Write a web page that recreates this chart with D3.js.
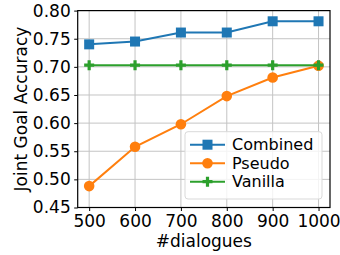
<!DOCTYPE html>
<html lang="en">
<head>
    <meta charset="UTF-8">
    <title>Joint Goal Accuracy vs #dialogues</title>
    <script src="https://d3js.org/d3.v7.min.js"></script>
    <style>
        body { margin: 0; background: #fff; }
        svg text { font-family: 'DejaVu Sans', sans-serif; fill: #000; }
        .grid line { stroke: #c4c4c4; stroke-width: 1; }
        .axis path, .axis line { stroke: #000; }
    </style>
</head>
<body>
    <div id="chart"></div>
    <script>
        // data
        const dialogues = [500, 600, 700, 800, 900, 1000];
        const combined = [0.740, 0.745, 0.761, 0.761, 0.781, 0.781];
        const pseudo = [0.488, 0.558, 0.598, 0.648, 0.681, 0.702];
        const vanilla = [0.703, 0.703, 0.703, 0.703, 0.703, 0.703];
        const yTicks = [0.45, 0.50, 0.55, 0.60, 0.65, 0.70, 0.75, 0.80];
        const seriesNames = ['Combined', 'Pseudo', 'Vanilla'];

        const width = 340, height = 255;
        const margin = { top: 10.6, right: 10, bottom: 47.5, left: 77.7 };
        const innerW = width - margin.left - margin.right;
        const innerH = height - margin.top - margin.bottom;

        const colors = ['#1f77b4', '#ff7f0e', '#2ca02c'];
        const shapes = ['square', 'circle', 'plus'];

        const x = d3.scaleLinear().domain([475, 1025]).range([0, innerW]);
        const y = d3.scaleLinear().domain([0.45, 0.80]).range([innerH, 0]);

        const svg = d3.select('#chart').append('svg')
            .attr('width', width)
            .attr('height', height);

        const g = svg.append('g')
            .attr('transform', `translate(${margin.left},${margin.top})`);

        // grid
        g.append('g').attr('class', 'grid')
            .selectAll('line').data(dialogues).enter().append('line')
            .attr('x1', d => x(d)).attr('x2', d => x(d))
            .attr('y1', 0).attr('y2', innerH);
        g.append('g').attr('class', 'grid')
            .selectAll('line').data(yTicks).enter().append('line')
            .attr('x1', 0).attr('x2', innerW)
            .attr('y1', d => y(d)).attr('y2', d => y(d));

        // series
        const series = [combined, pseudo, vanilla].map((vals, i) => ({
            name: seriesNames[i],
            color: colors[i],
            shape: shapes[i],
            points: vals.map((v, j) => ({ x: dialogues[j], y: v }))
        }));

        const line = d3.line().x(d => x(d.x)).y(d => y(d.y));

        function drawMarker(sel, shape, color) {
            if (shape === 'square') {
                sel.append('rect')
                    .attr('x', -5).attr('y', -5).attr('width', 10).attr('height', 10)
                    .attr('fill', color);
            } else if (shape === 'circle') {
                sel.append('circle').attr('r', 5.3).attr('fill', color);
            } else {
                sel.append('path')
                    .attr('d', 'M-5,-1.6H-1.6V-5H1.6V-1.6H5V1.6H1.6V5H-1.6V1.6H-5Z')
                    .attr('fill', color);
            }
        }

        series.forEach(s => {
            g.append('path')
                .datum(s.points)
                .attr('fill', 'none')
                .attr('stroke', s.color)
                .attr('stroke-width', 2)
                .attr('d', line);
            s.points.forEach(p => {
                const m = g.append('g').attr('transform', `translate(${x(p.x)},${y(p.y)})`);
                drawMarker(m, s.shape, s.color);
            });
        });

        // axes
        const xAxis = d3.axisBottom(x).tickValues(dialogues).tickFormat(d3.format('d'))
            .tickSize(3.5).tickPadding(3.5).tickSizeOuter(0);
        const yAxis = d3.axisLeft(y).tickValues(yTicks).tickFormat(d3.format('.2f'))
            .tickSize(3.5).tickPadding(3.5).tickSizeOuter(0);

        g.append('g').attr('class', 'axis')
            .attr('transform', `translate(0,${innerH})`)
            .call(xAxis)
            .call(a => a.select('.domain').remove())
            .selectAll('text').style('font-size', '17px');
        g.append('g').attr('class', 'axis')
            .call(yAxis)
            .call(a => a.select('.domain').remove())
            .selectAll('text').style('font-size', '17px');

        // frame
        g.append('rect')
            .attr('width', innerW).attr('height', innerH)
            .attr('fill', 'none').attr('stroke', '#000').attr('stroke-width', 1.2);

        // axis labels
        svg.append('text')
            .attr('x', margin.left + innerW / 2)
            .attr('y', 247)
            .attr('text-anchor', 'middle')
            .style('font-size', '17px')
            .text('#dialogues');
        svg.append('text')
            .attr('transform', `translate(27,${margin.top + innerH / 2}) rotate(-90)`)
            .attr('text-anchor', 'middle')
            .style('font-size', '17px')
            .text('Joint Goal Accuracy');

        // legend
        const lg = svg.append('g').attr('transform', 'translate(185,131.7)');
        lg.append('rect')
            .attr('width', 137).attr('height', 67.3)
            .attr('rx', 3)
            .attr('fill', 'rgba(255,255,255,0.8)')
            .attr('stroke', '#d9d9d9');
        series.forEach((s, i) => {
            const row = lg.append('g').attr('transform', `translate(0,${13 + i * 18.5})`);
            row.append('line')
                .attr('x1', 5).attr('x2', 40)
                .attr('stroke', s.color).attr('stroke-width', 2);
            drawMarker(row.append('g').attr('transform', 'translate(22.5,0)'), s.shape, s.color);
            row.append('text')
                .attr('x', 47).attr('dy', '0.35em')
                .style('font-size', '16px')
                .text(s.name);
        });
    </script>
</body>
</html>
